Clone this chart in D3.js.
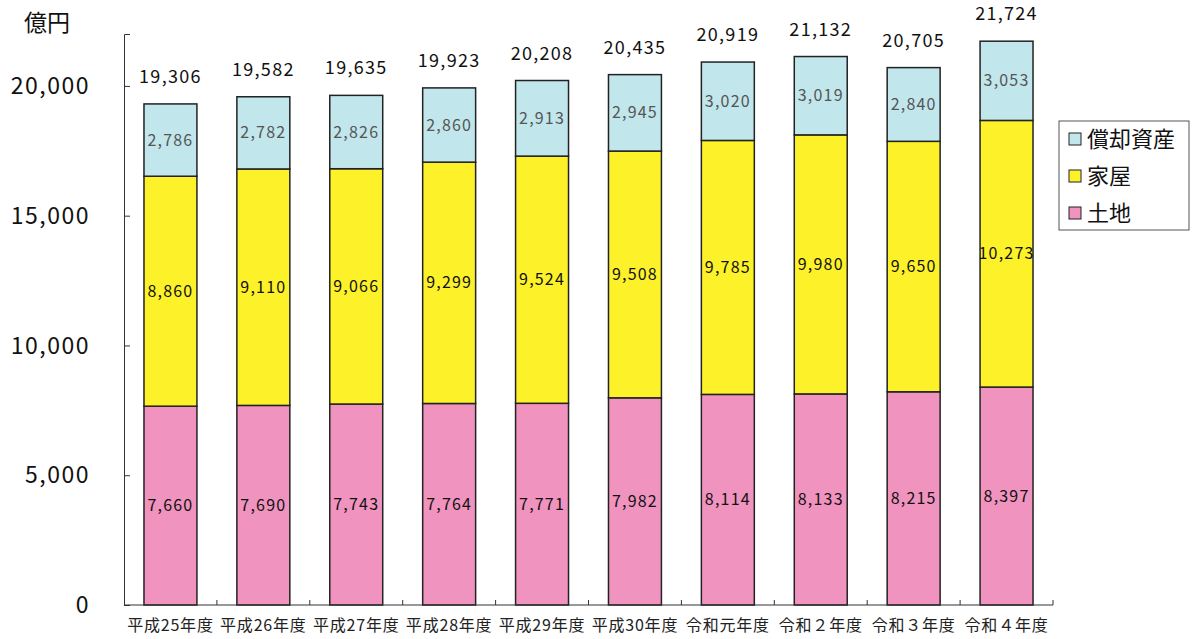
<!DOCTYPE html>
<html>
<head>
<meta charset="utf-8">
<script src="https://cdn.jsdelivr.net/npm/d3@7"></script>
<style>
  body { margin: 0; background: #fff; }
  text { font-family: "Noto Sans CJK JP", "Noto Sans", sans-serif; }
</style>
</head>
<body>
<svg id="chart" width="1194" height="639"></svg>
<script>
const years = ["平成25年度", "平成26年度", "平成27年度", "平成28年度", "平成29年度",
               "平成30年度", "令和元年度", "令和２年度", "令和３年度", "令和４年度"];
const land = [7660, 7690, 7743, 7764, 7771, 7982, 8114, 8133, 8215, 8397];
const house = [8860, 9110, 9066, 9299, 9524, 9508, 9785, 9980, 9650, 10273];
const depreciable = [2786, 2782, 2826, 2860, 2913, 2945, 3020, 3019, 2840, 3053];
const totals = [19306, 19582, 19635, 19923, 20208, 20435, 20919, 21132, 20705, 21724];
const yTicks = [0, 5000, 10000, 15000, 20000];

const seriesKeys = ["land", "house", "depreciable"];
const seriesNames = { land: "土地", house: "家屋", depreciable: "償却資産" };
const colors = { land: "#f093bf", house: "#fdf12a", depreciable: "#c1e6ec" };
const labelColors = { land: "#111", house: "#111", depreciable: "#555" };

const table = years.map((y, i) => ({
  year: y, land: land[i], house: house[i], depreciable: depreciable[i], total: totals[i]
}));

const svg = d3.select("#chart");
const margin = { left: 124, right: 141, top: 34, bottom: 34 };
const W = 1194, H = 639;

const x = d3.scaleBand()
  .domain(years)
  .range([margin.left, W - margin.right])
  .paddingInner(0.43)
  .paddingOuter(0.215);

const y = d3.scaleLinear()
  .domain([0, 22000])
  .range([H - margin.bottom, margin.top]);

const stack = d3.stack().keys(seriesKeys)(table);
const fmt = d3.format(",");

// bars
const layers = svg.append("g")
  .selectAll("g")
  .data(stack)
  .join("g")
  .attr("fill", d => colors[d.key]);

layers.selectAll("rect")
  .data(d => d)
  .join("rect")
  .attr("x", d => x(d.data.year))
  .attr("width", x.bandwidth())
  .attr("y", d => y(d[1]))
  .attr("height", d => y(d[0]) - y(d[1]))
  .attr("stroke", "#222")
  .attr("stroke-width", 1.5);

// segment labels
layers.each(function(layer) {
  d3.select(this).selectAll("text")
    .data(layer)
    .join("text")
    .attr("x", d => x(d.data.year) + x.bandwidth() / 2)
    .attr("y", d => (y(d[0]) + y(d[1])) / 2)
    .attr("dy", "0.35em")
    .attr("text-anchor", "middle")
    .attr("font-size", 16)
    .attr("letter-spacing", 1.2)
    .attr("fill", labelColors[layer.key])
    .text(d => fmt(d.data[layer.key]));
});

// totals
svg.append("g")
  .selectAll("text")
  .data(table)
  .join("text")
  .attr("x", d => x(d.year) + x.bandwidth() / 2)
  .attr("y", d => y(d.land + d.house + d.depreciable) - 21)
  .attr("text-anchor", "middle")
  .attr("font-size", 18)
  .attr("letter-spacing", 1.3)
  .attr("fill", "#111")
  .text(d => fmt(d.total));

// y axis
const yAxis = svg.append("g")
  .attr("transform", `translate(${margin.left},0)`)
  .call(d3.axisRight(y).tickValues(yTicks).tickSize(6).tickFormat(""));
yAxis.select(".domain").attr("stroke", "#333");
yAxis.selectAll(".tick line").attr("stroke", "#333");

svg.append("g")
  .selectAll("text")
  .data(yTicks)
  .join("text")
  .attr("x", 90)
  .attr("y", d => y(d))
  .attr("dy", "0.35em")
  .attr("text-anchor", "end")
  .attr("font-size", 23)
  .attr("letter-spacing", 1.5)
  .attr("fill", "#111")
  .text(d => fmt(d));

svg.append("text")
  .attr("x", 24).attr("y", 31)
  .attr("font-size", 23)
  .attr("fill", "#111")
  .text("億円");

// x axis
const x0 = H - margin.bottom;
svg.append("line")
  .attr("x1", margin.left).attr("x2", W - margin.right)
  .attr("y1", x0).attr("y2", x0)
  .attr("stroke", "#333");
const step = x.step();
const bounds = years.map((d, i) => x(d) - x.paddingInner() * step / 2 + step);
svg.append("g")
  .selectAll("line")
  .data(bounds)
  .join("line")
  .attr("x1", d => d).attr("x2", d => d)
  .attr("y1", x0).attr("y2", x0 - 5)
  .attr("stroke", "#333");

svg.append("g")
  .selectAll("text")
  .data(years)
  .join("text")
  .attr("x", d => x(d) + x.bandwidth() / 2)
  .attr("y", 631)
  .attr("text-anchor", "middle")
  .attr("font-size", 16)
  .attr("letter-spacing", 0.8)
  .attr("fill", "#222")
  .text(d => d);

// legend
const lg = svg.append("g").attr("transform", "translate(1059,121)");
lg.append("rect")
  .attr("width", 130).attr("height", 109)
  .attr("fill", "#fff").attr("stroke", "#555");
const legendKeys = ["depreciable", "house", "land"];
legendKeys.forEach((k, i) => {
  const cy = 18 + i * 37;
  lg.append("rect")
    .attr("x", 10).attr("y", cy - 6)
    .attr("width", 12).attr("height", 12)
    .attr("fill", colors[k]).attr("stroke", "#222");
  lg.append("text")
    .attr("x", 28).attr("y", cy)
    .attr("dy", "0.36em")
    .attr("font-size", 22)
    .attr("fill", "#111")
    .text(seriesNames[k]);
});
</script>
</body>
</html>
